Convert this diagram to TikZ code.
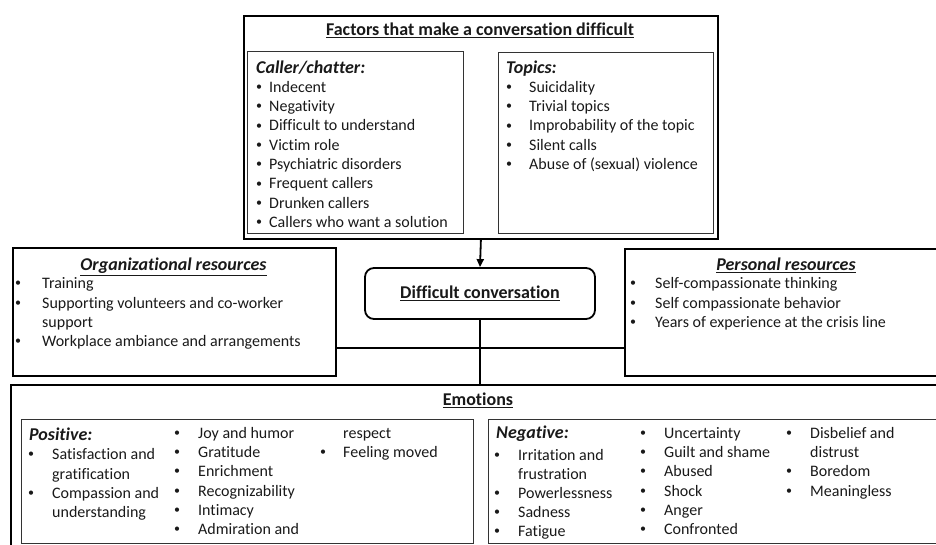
\documentclass[tikz,border=0pt]{standalone}
\usepackage{fontspec}
\setmainfont{Carlito}[Ligatures=NoCommon]
\usetikzlibrary{arrows.meta}
\newcounter{itm}
\newcommand{\bitem}[4]{%
  \stepcounter{itm}%
  \node[bul] (b\theitm) at (#1,#3) {\textbullet};
  \node[txt] (t\theitm) at (#2,#3) {#4};}
\newcommand{\titem}[3]{%
  \stepcounter{itm}%
  \node[txt] (t\theitm) at (#1,#2) {#3};}
\begin{document}
\begin{tikzpicture}[x=1pt,y=-1pt,
  font=\fontsize{16}{19.35}\selectfont,
  outerbox/.style={draw, line width=1.8pt, inner sep=0, anchor=north west},
  innerbox/.style={draw=black!80, line width=1.3pt, inner sep=0, anchor=north west},
  txt/.style={anchor=base west, inner sep=0, yshift=-5pt, text=black!90},
  hd/.style={anchor=base west, inner sep=0, yshift=-5.5pt, text=black!90, font=\fontsize{18}{20}\selectfont\bfseries\itshape},
  bul/.style={anchor=center, inner sep=0, yshift=-0.5pt, text=black!90, font=\fontsize{12}{12}\selectfont},
  ttl/.style={anchor=base, inner sep=0, yshift=-5.5pt, text=black!90, font=\fontsize{18}{20}\selectfont\bfseries},
  ttli/.style={ttl, font=\fontsize{18}{20}\selectfont\bfseries\itshape},
  conn/.style={line width=1.8pt}]
\useasboundingbox (0,0) rectangle (936,545);
\clip (0,0) rectangle (936,545);

% ---------- Factors ----------
\node[outerbox, minimum width=474, minimum height=223] (factors) at (243,15) {};
\node[ttl] (ftitle) at (480,30) {\underline{Factors that make a conversation difficult}};
\node[innerbox, minimum width=216, minimum height=182] (caller) at (247,51) {};
\node[innerbox, minimum width=215, minimum height=181] (topics) at (498,52) {};
\node[hd] (ctitle) at (256,68) {Caller/chatter:};
\bitem{259}{269}{87.3}{Indecent}
\bitem{259}{269}{106.7}{Negativity}
\bitem{259}{269}{126}{Difficult to understand}
\bitem{259}{269}{145.3}{Victim role}
\bitem{259}{269}{164.7}{Psychiatric disorders}
\bitem{259}{269}{184}{Frequent callers}
\bitem{259}{269}{203.3}{Drunken callers}
\bitem{259}{269}{222.7}{Callers who want a solution}
\node[hd] (ttitle) at (506,68) {Topics:};
\bitem{509}{529}{87.3}{Suicidality}
\bitem{509}{529}{106.7}{Trivial topics}
\bitem{509}{529}{126}{Improbability of the topic}
\bitem{509}{529}{145.3}{Silent calls}
\bitem{509}{529}{164.7}{Abuse of (sexual) violence}

% ---------- Difficult conversation ----------
\node[draw, line width=1.8pt, rounded corners=9pt, minimum width=230, minimum height=51, inner sep=0,
      font=\fontsize{18}{20}\selectfont\bfseries, text=black!90] (dc) at (480,293.5) {\underline{Difficult conversation}};

% ---------- Organizational resources ----------
\node[outerbox, minimum width=323, minimum height=128] (org) at (12,247) {};
\node[ttli] (otitle) at (173.5,265) {\underline{Organizational resources}};
\bitem{18}{42}{283.3}{Training}
\bitem{18}{42}{303.3}{Supporting volunteers and co-worker}
\titem{42}{322.7}{support}
\bitem{18}{42}{341.7}{Workplace ambiance and arrangements}

% ---------- Personal resources ----------
\node[outerbox, minimum width=324, minimum height=127] (pers) at (624,248) {};
\node[ttli] (ptitle) at (786,265) {\underline{Personal resources}};
\bitem{633}{655}{283.3}{Self-compassionate thinking}
\bitem{633}{655}{303.3}{Self compassionate behavior}
\bitem{633}{655}{322.7}{Years of experience at the crisis line}

% ---------- Emotions ----------
\node[outerbox, minimum width=936, minimum height=190] (emo) at (10,384) {};
\node[ttl] (etitle) at (478,400) {\underline{Emotions}};
\node[innerbox, minimum width=452, minimum height=124] (pos) at (21,419) {};
\node[innerbox, minimum width=462, minimum height=124] (neg) at (488,419) {};

\node[hd] (postitle) at (29,435) {Positive:};
\bitem{31}{52}{454.5}{Satisfaction and}
\titem{52}{474}{gratification}
\bitem{31}{52}{493}{Compassion and}
\titem{52}{512.5}{understanding}
\bitem{177}{198}{433.3}{Joy and humor}
\bitem{177}{198}{452.3}{Gratitude}
\bitem{177}{198}{471.7}{Enrichment}
\bitem{177}{198}{491}{Recognizability}
\bitem{177}{198}{510}{Intimacy}
\bitem{177}{198}{529.3}{Admiration and}
\titem{343}{433.3}{respect}
\bitem{323}{343}{452.3}{Feeling moved}

\node[hd] (negtitle) at (496,433.3) {Negative:};
\bitem{497}{518}{455}{Irritation and}
\titem{518}{474.3}{frustration}
\bitem{497}{518}{493.3}{Powerlessness}
\bitem{497}{518}{512.7}{Sadness}
\bitem{497}{518}{531.7}{Fatigue}
\bitem{643}{664}{433.3}{Uncertainty}
\bitem{643}{664}{452.3}{Guilt and shame}
\bitem{643}{664}{471.7}{Abused}
\bitem{643}{664}{491}{Shock}
\bitem{643}{664}{510}{Anger}
\bitem{643}{664}{529.3}{Confronted}
\bitem{789}{810}{433.3}{Disbelief and}
\titem{810}{452.3}{distrust}
\bitem{789}{810}{471.7}{Boredom}
\bitem{789}{810}{491}{Meaningless}

% ---------- Connectors ----------
\coordinate (hub) at (480,348);
\draw[conn, -{Triangle[length=8pt,width=7pt]}] (factors.south) -- (dc.north);
\draw[conn] (dc.south) -- (dc.south |- emo.north);
\draw[conn] (hub -| org.east) -- (hub -| pers.west);
\end{tikzpicture}
\end{document}
